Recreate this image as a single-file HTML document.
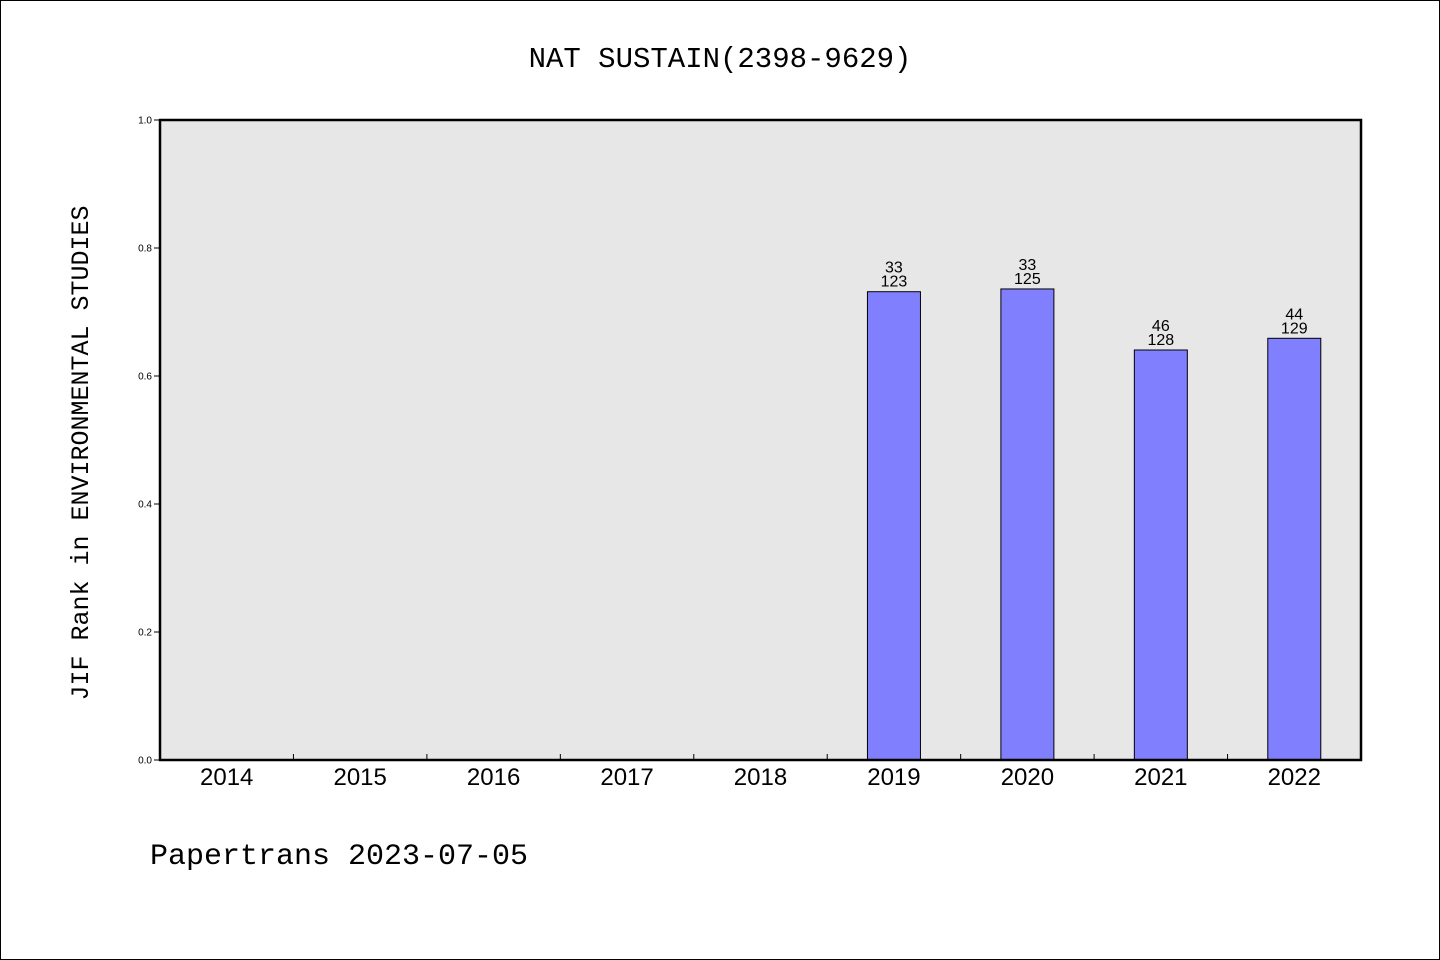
<!DOCTYPE html>
<html><head><meta charset="utf-8"><style>
html,body{margin:0;padding:0;background:#fff}
svg{display:block}
</style></head><body>
<svg width="1440" height="960" xmlns="http://www.w3.org/2000/svg">
<rect x="0.5" y="0.5" width="1439" height="959" fill="#fff" stroke="#000"/>
<text x="720" y="67" text-anchor="middle" font-family="Liberation Mono, monospace" font-size="29">NAT SUSTAIN(2398-9629)</text>
<rect x="160" y="120" width="1201" height="640" fill="#e7e7e7"/>
<g id="marks"></g>
<rect x="160" y="120" width="1201" height="640" fill="none" stroke="#000" stroke-width="2.5"/>
<text transform="translate(88,453) rotate(-90)" text-anchor="middle" font-family="Liberation Mono, monospace" font-size="25">JIF Rank in ENVIRONMENTAL STUDIES</text>
<text x="150" y="864" font-family="Liberation Mono, monospace" font-size="30">Papertrans 2023-07-05</text>
</svg>
<script>
const categories=["2014","2015","2016","2017","2018","2019","2020","2021","2022"];
const ranks=[null,null,null,null,null,33,33,46,44];
const totals=[null,null,null,null,null,123,125,128,129];
const yTicks=[0,0.2,0.4,0.6,0.8,1.0];
const yTickLabels=["0.0","0.2","0.4","0.6","0.8","1.0"];
const NS="http://www.w3.org/2000/svg";
const X0=160,X1=1361,Y0=760,Y1=120;
const band=(X1-X0)/categories.length;
function xc(i){return X0+band*(i+0.5);}
function y(v){return Y0-(Y0-Y1)*v;}
const g=document.getElementById('marks');
function mk(tag,attrs){const e=document.createElementNS(NS,tag);for(const k in attrs)e.setAttribute(k,attrs[k]);g.appendChild(e);return e;}
yTicks.forEach((t,i)=>{
 const l=mk('line',{x1:154,x2:160,y1:y(t),y2:y(t),stroke:'#000'});
 
 
 const tx=mk('text',{x:152,y:y(t)+3.5,'text-anchor':'end','font-family':'Liberation Sans, sans-serif','font-size':10});
 tx.textContent=yTickLabels[i];
 
 
});
categories.forEach((c,i)=>{
 if(i>0){const l=mk('line',{x1:X0+band*i,x2:X0+band*i,y1:754,y2:760,stroke:'#000'});
 
 }
 const tx=mk('text',{x:xc(i),y:785,'text-anchor':'middle','font-family':'Liberation Sans, sans-serif','font-size':24});
 tx.textContent=c;
 
 
 if(ranks[i]!=null){
  const v=1-ranks[i]/totals[i];
  const b=mk('rect',{x:xc(i)-26.5,y:y(v),width:53,height:Y0-y(v),fill:'#8080ff',stroke:'#000','stroke-width':1});
  
  
  const t1=mk('text',{x:xc(i),y:y(v)-19,'text-anchor':'middle','font-family':'Liberation Sans, sans-serif','font-size':16});
  t1.textContent=ranks[i];
  
  
  const t2=mk('text',{x:xc(i),y:y(v)-5,'text-anchor':'middle','font-family':'Liberation Sans, sans-serif','font-size':16});
  t2.textContent=totals[i];
  
  
 }
});
</script>
</body></html>
